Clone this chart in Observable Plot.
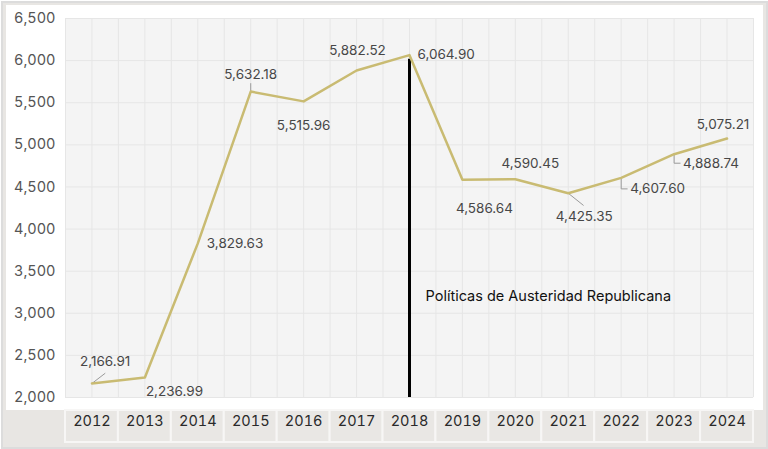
<!DOCTYPE html>
<html>
<head>
<meta charset="utf-8">
<script src="https://cdn.jsdelivr.net/npm/d3@7"></script>
<script src="https://cdn.jsdelivr.net/npm/@observablehq/plot@0.6"></script>
<style>
  html, body { margin: 0; padding: 0; background: #fff; }
  #wrap { position: relative; width: 768px; height: 449px; overflow: hidden; }
  #outer { position: absolute; left: 1px; top: 1px; width: 763px; height: 444px;
           border: 2px solid #dcdcdc; background: #e8e6e3; }
  #panel { position: absolute; left: 6px; top: 5px; width: 757px; height: 405px; background: #fff; }
  #chart { position: absolute; left: 0; top: 0; }
  svg { font-family: Inter, "Open Sans", sans-serif; }
</style>
</head>
<body>
<div id="wrap">
  <div id="outer"></div>
  <div id="panel"></div>
  <div id="chart"></div>
</div>
<script>
// ---- data ----
const years  = [2012, 2013, 2014, 2015, 2016, 2017, 2018, 2019, 2020, 2021, 2022, 2023, 2024];
const values = [2166.91, 2236.99, 3829.63, 5632.18, 5515.96, 5882.52, 6064.90, 4586.64, 4590.45, 4425.35, 4607.60, 4888.74, 5075.21];
const yTicks = [2000, 2500, 3000, 3500, 4000, 4500, 5000, 5500, 6000, 6500];
const policyYear = 2018;
const policyLabel = "Políticas de Austeridad Republicana";
const policyLabelValue = 3200;

// ---- label layout (pixels) ----
const labelDx = [-12, 1, 9, 0, 0, 1, 8, 22, 15, 16, 9, 9, -4];
const labelDy = [-22, 14, 0, -17, 24, -20, 0, 29, -16, 23, 11, 9, -14];
const labelAnchor = ["start","start","start","middle","middle","middle","start","middle","middle","middle","start","start","middle"];
// leader polylines in pixel offsets from the point
const leaders = [
  {i: 0,  pts: [[0,0],[13,-10]]},
  {i: 3,  pts: [[0,0],[0,-8]]},
  {i: 9,  pts: [[0,0],[15,12]]},
  {i: 10, pts: [[0,0],[0,11],[6,11]]},
  {i: 11, pts: [[0,0],[0,9],[6,9]]}
];

const W = 768, H = 449;
const mL = 65, mR = 15, mT = 18, mB = 52;
const xDomain = [years[0] - 0.5, years[years.length - 1] + 0.5];
const yDomain = [yTicks[0], yTicks[yTicks.length - 1]];
const pxPerYear = (W - mL - mR) / (xDomain[1] - xDomain[0]);
const pxPerUnit = (H - mT - mB) / (yDomain[1] - yDomain[0]);

const data = years.map((y, i) => ({year: y, value: values[i], label: d3.format(",.2f")(values[i])}));
const gridX = years.flatMap(y => [y - 0.5, y]).concat([years[years.length - 1] + 0.5]);

const leaderRows = leaders.flatMap((l, k) => l.pts.map(([px, py]) => ({
  k, year: years[l.i] + px / pxPerYear, value: values[l.i] - py / pxPerUnit
})));

const labelMarks = data.map((d, i) => Plot.text([d], {
  x: "year", y: "value", text: "label",
  dx: labelDx[i], dy: labelDy[i], textAnchor: labelAnchor[i],
  fontSize: 13.5, fill: "#474747"
}));

const chart = Plot.plot({
  width: W, height: H,
  marginLeft: mL, marginRight: mR, marginTop: mT, marginBottom: mB,
  style: {background: "transparent", overflow: "visible"},
  x: {domain: xDomain, axis: null},
  y: {domain: yDomain, axis: null},
  marks: [
    Plot.frame({fill: "#f4f4f4", stroke: null}),
    Plot.gridX({ticks: gridX, stroke: "#e6e6e6", strokeOpacity: 1}),
    Plot.gridY({ticks: yTicks, stroke: "#e6e6e6", strokeOpacity: 1}),
    Plot.axisY({ticks: yTicks, tickFormat: d3.format(","), tickSize: 0, tickPadding: 10,
                fontSize: 14.5, color: "#555", label: null}),
    // year cells under the plot
    Plot.rect(years, {x1: d => d - 0.5, x2: d => d + 0.5, y1: yDomain[0], y2: yDomain[0],
                      insetTop: 13, insetBottom: -45, fill: "#e9e7e4", stroke: "#f7f6f5", strokeWidth: 2}),
    Plot.axisX({ticks: years, tickFormat: d => String(d), tickSize: 0, tickPadding: 18,
                fontSize: 14.5, color: "#2a2a2a", label: null}),
    Plot.ruleX([policyYear], {y1: yDomain[0], y2: values[years.indexOf(policyYear)],
                              stroke: "#000", strokeWidth: 3, insetBottom: -4}),
    Plot.text([policyLabel], {x: policyYear, y: policyLabelValue, text: d => d, textAnchor: "start",
                              dx: 16, fontSize: 14.5, fill: "#111"}),
    Plot.line(leaderRows, {x: "year", y: "value", z: "k", stroke: "#9a9a9a", strokeWidth: 1}),
    Plot.line(data, {x: "year", y: "value", stroke: "#c9bb72", strokeWidth: 2.5}),
    ...labelMarks
  ]
});
document.getElementById("chart").appendChild(chart);
</script>
</body>
</html>
